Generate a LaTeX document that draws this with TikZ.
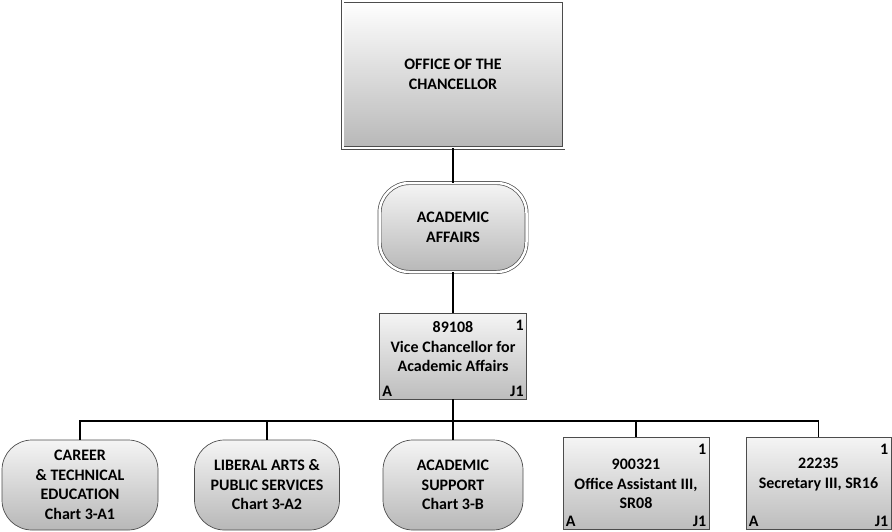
\documentclass[tikz,border=0pt]{standalone}
\usepackage{fontspec}
\setmainfont{Carlito}

\begin{document}
\begin{tikzpicture}[x=1pt,y=-1pt,every node/.style={font=\fontsize{16}{19.5}\selectfont\bfseries},
  chief/.style={draw=black!70,line width=0.7pt,double,double distance=2pt,top color=white,bottom color=black!28,minimum width=221pt,minimum height=147pt,align=center},
  unit/.style={draw=black!70,line width=0.7pt,rounded corners=30pt,top color=black!4,bottom color=black!28,align=center,inner sep=0pt},
  post/.style={draw=black!70,line width=0.7pt,top color=black!4,bottom color=black!26,inner sep=0pt},
  posttext/.style={align=center,inner sep=0pt},
  tag/.style={inner sep=3pt},
  numtag/.style={inner xsep=3pt,inner ysep=7pt},
  link/.style={line width=1.5pt}]
 \useasboundingbox (0,0) rectangle (892,531);
 % top of the chart
 \node[chief] (chanc) at (453,74.5) {OFFICE OF THE\\CHANCELLOR};
 \node[unit,double,double distance=2.5pt,minimum width=147pt,minimum height=89pt] (acad) at (453,227.5) {ACADEMIC\\AFFAIRS};
 \node[post,minimum width=147pt,minimum height=86pt] (vc) at (453,356) {};
 \node[posttext] (vc-t) at (453,347) {89108\\Vice Chancellor for\\Academic Affairs};
 \node[numtag,anchor=north east] (vc-n) at (vc.north east) {1};
 \node[tag,anchor=south west] (vc-a) at (vc.south west) {A};
 \node[tag,anchor=south east] (vc-j) at (vc.south east) {J1};
 % bottom row
 \node[unit,minimum width=156pt,minimum height=90pt] (career) at (80,485) {CAREER\\\& TECHNICAL\\EDUCATION\\Chart 3-A1};
 \node[unit,minimum width=145pt,minimum height=90pt] (liberal) at (267,485) {LIBERAL ARTS \&\\PUBLIC SERVICES\\Chart 3-A2};
 \node[unit,minimum width=140pt,minimum height=90pt] (support) at (453,485) {ACADEMIC\\SUPPORT\\Chart 3-B};
 \node[post,minimum width=146pt,minimum height=92pt] (office) at (636,483) {};
 \node[posttext] (office-t) at (636,484) {900321\\Office Assistant III,\\SR08};
 \node[numtag,anchor=north east] (office-n) at (office.north east) {1};
 \node[tag,anchor=south west] (office-a) at (office.south west) {A};
 \node[tag,anchor=south east] (office-j) at (office.south east) {J1};
 \node[post,minimum width=145pt,minimum height=92pt] (sec) at (818.5,483) {};
 \node[posttext] (sec-t) at (818.5,474.5) {22235\\Secretary III, SR16};
 \node[numtag,anchor=north east] (sec-n) at (sec.north east) {1};
 \node[tag,anchor=south west] (sec-a) at (sec.south west) {A};
 \node[tag,anchor=south east] (sec-j) at (sec.south east) {J1};
 % connectors
 \coordinate (bus) at (453,421);
 \draw[link] (chanc) -- (acad);
 \draw[link] (acad) -- (vc);
 \draw[link] (vc) -- (support);
 \draw[link] (career.north) |- (bus) -| (sec.north);
 \draw[link] (liberal.north) -- (liberal.north |- bus);
 \draw[link] (office.north) -- (office.north |- bus);
\end{tikzpicture}
\end{document}
